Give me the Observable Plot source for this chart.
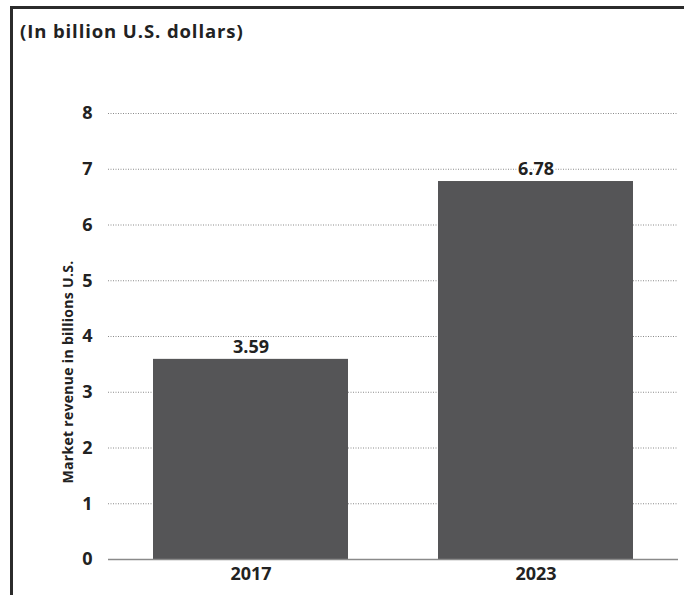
<!DOCTYPE html>
<html>
<head>
<meta charset="utf-8">
<script src="https://cdn.jsdelivr.net/npm/d3@7"></script>
<script src="https://cdn.jsdelivr.net/npm/@observablehq/plot@0.6"></script>
<style>
  html, body { margin: 0; padding: 0; background: #fff; }
  #wrap { position: relative; width: 684px; height: 595px; overflow: hidden; font-family: "Open Sans", sans-serif; }
  #topline { position: absolute; left: 10px; top: 6px; width: 674px; height: 2.5px; background: #2b2b2b; }
  #leftline { position: absolute; left: 10px; top: 6px; width: 2.5px; height: 589px; background: #2b2b2b; }
  #title { position: absolute; left: 20px; top: 18px; font-size: 18.5px; line-height: 1.362; font-weight: 700; letter-spacing: 0.9px; color: #222; }
  #ylabel { position: absolute; left: 67px; top: 372px; transform: translate(-50%, -50%) rotate(-90deg); white-space: nowrap; font-size: 14px; letter-spacing: 0.3px; font-weight: 700; color: #222; }
  #chart { position: absolute; left: 0; top: 50px; }
</style>
</head>
<body>
<div id="wrap">
  <div id="topline"></div>
  <div id="leftline"></div>
  <div id="title">(In billion U.S. dollars)</div>
  <div id="ylabel">Market revenue in billions U.S.</div>
  <div id="chart"></div>
</div>
<script>
const years = ["2017", "2023"];
const revenue = [3.59, 6.78];
const yTicks = [0, 1, 2, 3, 4, 5, 6, 7, 8];
const valueLabels = ["3.59", "6.78"];

const data = years.map((y, i) => ({year: y, value: revenue[i], label: valueLabels[i]}));

const chart = Plot.plot({
  width: 684,
  height: 545,
  marginLeft: 108,
  marginRight: 6,
  marginTop: 63,
  marginBottom: 36,
  style: {fontFamily: "'Open Sans', sans-serif", fontSize: "18px", fontWeight: 700, color: "#222", background: "transparent"},
  x: {domain: years, paddingInner: 0.315, paddingOuter: 0.155, label: null},
  y: {domain: [0, 8], label: null},
  marks: [
    Plot.ruleY(yTicks.filter(d => d > 0), {stroke: "#8a8a8a", strokeWidth: 1, strokeDasharray: "1,1.5"}),
    Plot.barY(data, {x: "year", y: "value", fill: "#555557"}),
    Plot.ruleY([0], {stroke: "#8a8a8a", strokeWidth: 1.5}),
    Plot.text(data, {x: "year", y: "value", text: "label", dy: -12, fontSize: 18, fontWeight: 700, fill: "#222", stroke: "white", strokeWidth: 4, paintOrder: "stroke"}),
    Plot.axisY({ticks: yTicks, tickSize: 0, tickPadding: 16, tickFormat: d => String(d), fontSize: 18, fontWeight: 700, label: null}),
    Plot.axisX({tickSize: 0, tickPadding: 8, fontSize: 18, fontWeight: 700, label: null})
  ]
});
document.getElementById("chart").appendChild(chart);
</script>
</body>
</html>
